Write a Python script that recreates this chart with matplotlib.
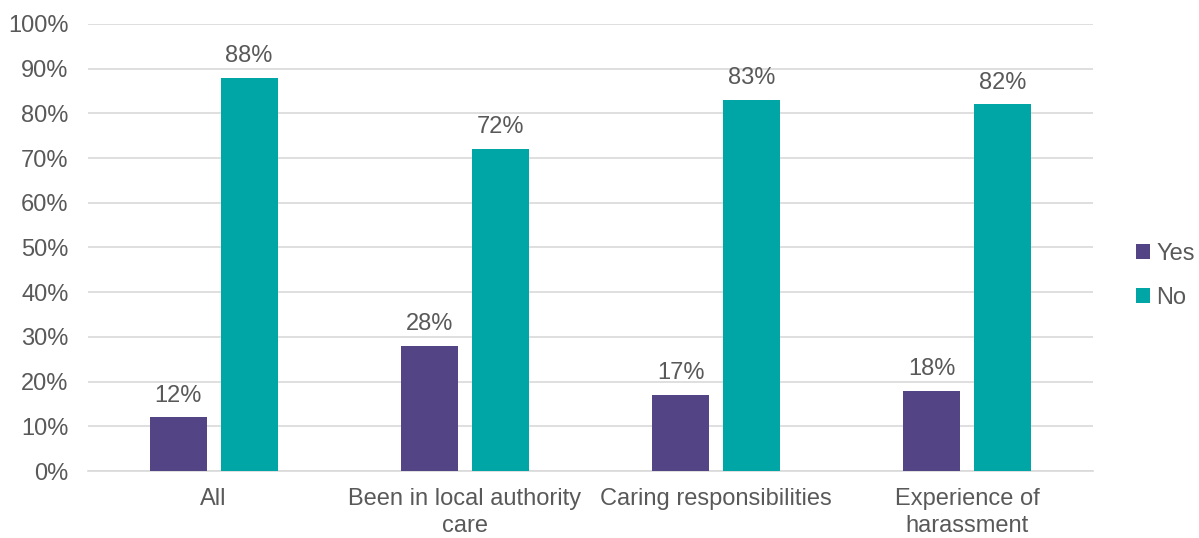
import numpy as np
import matplotlib.pyplot as plt

plt.rcParams['font.family'] = ['Liberation Sans', 'DejaVu Sans']

categories = ["All", "Been in local authority\ncare", "Caring responsibilities", "Experience of\nharassment"]
yes_vals = [12, 28, 17, 18]
no_vals = [88, 72, 83, 82]

purple = "#534585"
teal = "#00A5A5"
txt = "#595959"

fig = plt.figure(figsize=(11.99, 5.38), dpi=100)
ax = fig.add_axes([0.0734, 0.1245, 0.838, 0.831])

x = np.arange(len(categories))
w = 0.227
off = 0.141
b1 = ax.bar(x - off, yes_vals, w, color=purple, label="Yes", zorder=3)
b2 = ax.bar(x + off, no_vals, w, color=teal, label="No", zorder=3)

for bars, vals in ((b1, yes_vals), (b2, no_vals)):
    for b, v in zip(bars, vals):
        ax.text(b.get_x() + b.get_width() / 2, v + 2.4, f"{v}%", ha="center", va="bottom",
                fontsize=17, color=txt)

ax.set_xlim(-0.5, len(categories) - 0.5)
ax.set_ylim(0, 100)
ax.set_yticks(range(0, 101, 10))
ax.set_yticklabels([f"{t}%" for t in range(0, 101, 10)])
ax.set_xticks(x)
ax.set_xticklabels(categories, linespacing=1.3)
ax.tick_params(axis="both", length=0, labelsize=17, colors=txt)
ax.tick_params(axis="y", pad=14)
ax.tick_params(axis="x", pad=12)
ax.grid(axis="y", color="#d9d9d9", linewidth=1.2, zorder=0)
for s in ("top", "right", "left"):
    ax.spines[s].set_visible(False)
ax.spines["bottom"].set_color("#d9d9d9")
ax.spines["bottom"].set_linewidth(1.2)

leg = fig.legend(loc="center left", bbox_to_anchor=(0.93, 0.487), frameon=False,
                 fontsize=17, handlelength=0.6, handleheight=0.6, handletextpad=0.25,
                 labelspacing=0.95)
for t in leg.get_texts():
    t.set_color(txt)

fig.savefig("out.png", dpi=100)
